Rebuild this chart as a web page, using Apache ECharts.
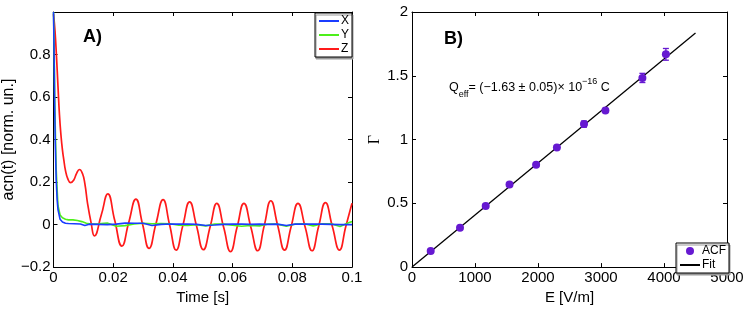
<!DOCTYPE html>
<html>
<head>
<meta charset="utf-8">
<script src="https://cdn.jsdelivr.net/npm/echarts@6/dist/echarts.min.js"></script>
<style>
html,body{margin:0;padding:0;background:#fff;}
#chart{width:747px;height:310px;}
</style>
</head>
<body>
<div id="chart"></div>
<script>
// ---- Panel A data: normalized autocorrelation vs time ----
const tX = [0, 0.0002, 0.0004, 0.0006, 0.0009, 0.0012, 0.0015, 0.0022, 0.003, 0.004, 0.005, 0.007, 0.009, 0.0105, 0.012, 0.015, 0.018, 0.021, 0.024, 0.027, 0.03, 0.033, 0.036, 0.039, 0.042, 0.045, 0.048, 0.051, 0.054, 0.057, 0.06, 0.063, 0.066, 0.069, 0.072, 0.075, 0.078, 0.081, 0.084, 0.087, 0.09, 0.093, 0.096, 0.1];
const vX = [1.0, 0.8, 0.55, 0.38, 0.21, 0.12, 0.07, 0.025, 0.012, 0.006, 0.005, 0.004, 0.003, -0.004, 0.002, 0.001, 0.0, 0.002, 0.007, 0.006, 0.006, -0.004, 0.001, 0.003, 0.002, 0.003, 0.001, -0.004, -0.002, 0.001, 0.002, 0.002, 0.001, 0.002, 0.001, 0.002, -0.004, 0.002, 0.002, 0.003, 0.002, 0.001, 0.0, 0.0];

const tY = [0, 0.0002, 0.0004, 0.0006, 0.0009, 0.0012, 0.0015, 0.0022, 0.003, 0.004, 0.005, 0.0065, 0.008, 0.0095, 0.011, 0.0125, 0.015, 0.018, 0.021, 0.024, 0.027, 0.03, 0.033, 0.036, 0.039, 0.042, 0.045, 0.048, 0.051, 0.054, 0.057, 0.06, 0.063, 0.066, 0.069, 0.072, 0.075, 0.078, 0.081, 0.084, 0.087, 0.09, 0.093, 0.096, 0.099, 0.1];
const vY = [1.0, 0.85, 0.6, 0.45, 0.26, 0.17, 0.09, 0.045, 0.032, 0.025, 0.022, 0.022, 0.019, 0.014, 0.006, 0.003, 0.004, 0.007, -0.008, -0.005, 0.003, 0.006, 0.004, 0.005, 0.004, -0.003, -0.004, -0.001, -0.006, 0.003, 0.002, -0.003, -0.008, -0.004, -0.006, 0.003, 0.002, -0.008, 0.003, 0.004, -0.006, 0.004, 0.004, -0.009, 0.01, 0.014];

const tZ = [0, 0.0005, 0.001, 0.0015, 0.002, 0.0025, 0.003, 0.0035, 0.004, 0.0048, 0.0057, 0.0068, 0.0077, 0.0087, 0.0097, 0.0105, 0.0114, 0.0126, 0.0137, 0.016, 0.0182, 0.0205, 0.0229, 0.0252, 0.0276, 0.0298, 0.032, 0.0343, 0.0367, 0.0389, 0.0411, 0.0433, 0.0456, 0.0479, 0.0502, 0.0525, 0.0547, 0.057, 0.0593, 0.0615, 0.0638, 0.0661, 0.0684, 0.0706, 0.0728, 0.0751, 0.0774, 0.0796, 0.0819, 0.0843, 0.0866, 0.0888, 0.0911, 0.0934, 0.0958, 0.0979, 0.1];
const vZ = [0.99, 0.91, 0.79, 0.65, 0.515, 0.42, 0.35, 0.30, 0.255, 0.215, 0.197, 0.21, 0.24, 0.259, 0.24, 0.193, 0.10, 0.008, -0.053, 0.045, 0.144, 0.02, -0.101, 0.01, 0.120, 0.004, -0.112, 0.003, 0.117, -0.002, -0.120, -0.006, 0.107, -0.006, -0.118, -0.009, 0.100, -0.013, -0.127, -0.013, 0.100, -0.011, -0.123, -0.005, 0.112, -0.004, -0.120, -0.01, 0.100, -0.011, -0.123, -0.01, 0.103, -0.008, -0.120, -0.01, 0.100];

// ---- Panel B data: damping vs field ----
const fieldE = [297, 762, 1170, 1548, 1970, 2300, 2730, 3070, 3657, 4030];
const gammaACF = [0.127, 0.309, 0.479, 0.648, 0.803, 0.937, 1.121, 1.228, 1.483, 1.668];
const gammaErr = [0.012, 0.012, 0.014, 0.014, 0.014, 0.014, 0.024, 0.015, 0.036, 0.046];
const fitE = [0, 4500];
const fitG = [0, 1.835];

// ---- ticks ----
const ticksAx = {min: 0, max: 0.1, interval: 0.02};
const ticksAy = {min: -0.2, max: 1, interval: 0.2};
const ticksBx = {min: 0, max: 5000, interval: 1000};
const ticksBy = {min: 0, max: 2, interval: 0.5};

const zip = (a, b) => a.map((v, i) => [v, b[i]]);
const FONT = 'Liberation Sans, Arial, Helvetica, sans-serif';
const fmtNum = v => String(+(+v).toFixed(4)).replace('-', '\u2212');

function axisBase(extra) {
  return Object.assign({
    type: 'value',
    splitLine: {show: false},
    axisLine: {show: true, onZero: false, lineStyle: {color: '#000', width: 1}},
    axisTick: {show: true, inside: true, length: 4, lineStyle: {color: '#000'}},
    axisLabel: {show: true, color: '#000', fontSize: 15, fontFamily: FONT, margin: 3, formatter: fmtNum},
    nameTextStyle: {color: '#000', fontSize: 15, fontFamily: FONT}
  }, extra);
}
function mirror(extra) {
  const a = axisBase(extra);
  a.axisLabel = {show: false};
  return a;
}

const lineLegendItem = name => ({name: name, itemStyle: {opacity: 0}});

const chart = echarts.init(document.getElementById('chart'), null, {renderer: 'canvas'});

const option = {
  animation: false,
  backgroundColor: '#fff',
  textStyle: {fontFamily: FONT},
  grid: [
    {left: 52, right: 395, top: 12, bottom: 37},
    {left: 412, right: 20, top: 12, bottom: 37}
  ],
  xAxis: [
    axisBase(Object.assign({gridIndex: 0, position: 'bottom', name: 'Time [s]', nameLocation: 'middle', nameGap: 15}, ticksAx)),
    mirror(Object.assign({gridIndex: 0, position: 'top'}, ticksAx)),
    axisBase(Object.assign({gridIndex: 1, position: 'bottom', name: 'E [V/m]', nameLocation: 'middle', nameGap: 15}, ticksBx)),
    mirror(Object.assign({gridIndex: 1, position: 'top'}, ticksBx))
  ],
  yAxis: [
    axisBase(Object.assign({gridIndex: 0, position: 'left', name: 'acn(t) [norm. un.]', nameLocation: 'middle', nameGap: 27,
      nameTextStyle: {color: '#000', fontSize: 16, fontFamily: FONT},
      axisLabel: {show: true, color: '#000', fontSize: 15, fontFamily: FONT, margin: 3,
        formatter: v => (Math.abs(v - 1) < 1e-9 ? '' : fmtNum(v))}}, ticksAy)),
    mirror(Object.assign({gridIndex: 0, position: 'right'}, ticksAy)),
    axisBase(Object.assign({gridIndex: 1, position: 'left', name: '\u0393', nameLocation: 'middle', nameGap: 28,
      nameTextStyle: {color: '#000', fontSize: 16, fontFamily: 'Liberation Serif, DejaVu Serif, serif'},
      axisLabel: {show: true, color: '#000', fontSize: 15, fontFamily: FONT, margin: 4, formatter: fmtNum}}, ticksBy)),
    mirror(Object.assign({gridIndex: 1, position: 'right'}, ticksBy))
  ],
  legend: [
    {
      data: [lineLegendItem('X'), lineLegendItem('Y'), lineLegendItem('Z')], orient: 'vertical', left: 315, top: 13,
      itemWidth: 20, itemHeight: 8, itemGap: 2, padding: [2, 3, 2, 3],
      backgroundColor: '#fff', borderColor: '#000', borderWidth: 1,
      shadowColor: '#999', shadowOffsetX: 1, shadowOffsetY: 2, shadowBlur: 0,
      textStyle: {fontSize: 12, color: '#000', fontFamily: FONT, padding: [0, 0, 0, -3]}
    },
    {
      data: [{name: 'ACF', icon: 'circle'}, lineLegendItem('Fit')], orient: 'vertical', left: 676, top: 243,
      itemWidth: 20, itemHeight: 8, itemGap: 2, padding: [2, 3, 2, 3],
      backgroundColor: '#fff', borderColor: '#000', borderWidth: 1,
      shadowColor: '#999', shadowOffsetX: 1, shadowOffsetY: 2, shadowBlur: 0,
      textStyle: {fontSize: 12, color: '#000', fontFamily: FONT, padding: [0, 0, 0, -3]}
    }
  ],
  series: [
    {name: 'X', type: 'line', xAxisIndex: 0, yAxisIndex: 0, data: zip(tX, vX), showSymbol: false, symbol: 'none',
      lineStyle: {color: '#1a3cff', width: 1.6}, itemStyle: {color: '#1a3cff'}, z: 4},
    {name: 'Y', type: 'line', xAxisIndex: 0, yAxisIndex: 0, data: zip(tY, vY), showSymbol: false, symbol: 'none',
      lineStyle: {color: '#4def1a', width: 1.6}, itemStyle: {color: '#4def1a'}, z: 3},
    {name: 'Z', type: 'line', xAxisIndex: 0, yAxisIndex: 0, data: zip(tZ, vZ), showSymbol: false, symbol: 'none', smooth: 0.5,
      lineStyle: {color: '#ff1a1a', width: 1.7}, itemStyle: {color: '#ff1a1a'}, z: 2},
    {name: 'Fit', type: 'line', xAxisIndex: 2, yAxisIndex: 2, data: zip(fitE, fitG), showSymbol: false, symbol: 'none',
      lineStyle: {color: '#000', width: 1.3}, itemStyle: {color: '#000'}, z: 5},
    {name: 'ACFerr', type: 'custom', xAxisIndex: 2, yAxisIndex: 2,
      data: fieldE.map((e, i) => [e, gammaACF[i], gammaErr[i]]),
      renderItem: function (params, api) {
        const x = api.value(0), y = api.value(1), er = api.value(2);
        const hi = api.coord([x, y + er]);
        const lo = api.coord([x, y - er]);
        const hw = 3;
        const st = {stroke: '#6619d1', lineWidth: 1.3};
        return {type: 'group', children: [
          {type: 'line', shape: {x1: hi[0], y1: hi[1], x2: lo[0], y2: lo[1]}, style: st},
          {type: 'line', shape: {x1: hi[0] - hw, y1: hi[1], x2: hi[0] + hw, y2: hi[1]}, style: st},
          {type: 'line', shape: {x1: lo[0] - hw, y1: lo[1], x2: lo[0] + hw, y2: lo[1]}, style: st}
        ]};
      }, z: 6},
    {name: 'ACF', type: 'scatter', xAxisIndex: 2, yAxisIndex: 2, data: zip(fieldE, gammaACF), symbol: 'circle', symbolSize: 8,
      itemStyle: {color: '#6619d1', opacity: 1}, z: 7}
  ],
  graphic: [
    {type: 'text', left: 83, top: 28, style: {text: 'A)', font: 'bold 18px ' + FONT, fill: '#000'}},
    {type: 'text', left: 444, top: 30, style: {text: 'B)', font: 'bold 18px ' + FONT, fill: '#000'}},
    {type: 'text', left: 449, top: 77, style: {
      text: 'Q{sub|eff}= (\u22121.63 \u00b1 0.05)\u00d7 10{sup|\u221216} C',
      fontSize: 12.5, fontFamily: FONT, fill: '#000', lineHeight: 22,
      rich: {
        sub: {fontSize: 9, fontFamily: FONT, verticalAlign: 'bottom', lineHeight: 9, fill: '#000'},
        sup: {fontSize: 9, fontFamily: FONT, verticalAlign: 'top', lineHeight: 9, fill: '#000'}
      }
    }}
  ]
};
chart.setOption(option);
</script>
</body>
</html>
